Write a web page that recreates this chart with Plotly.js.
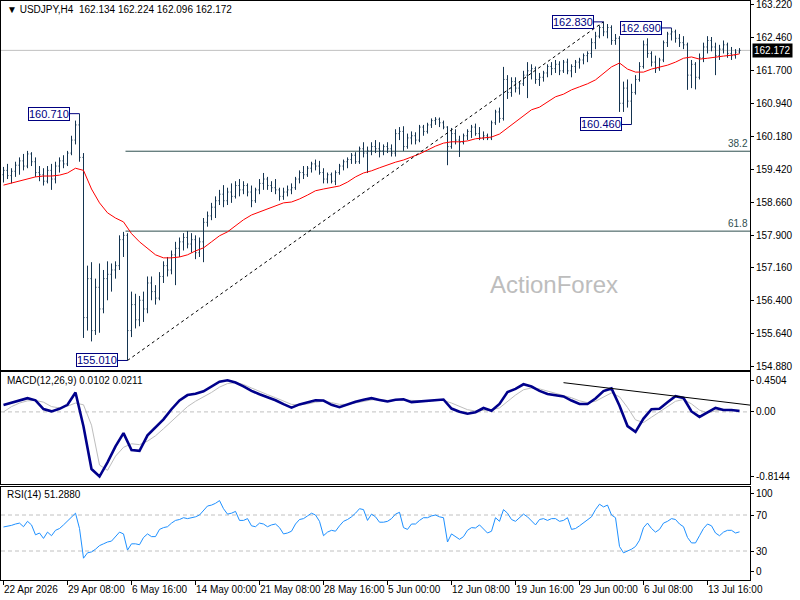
<!DOCTYPE html>
<html><head><meta charset="utf-8">
<script src="https://cdn.plot.ly/plotly-3.0.1.min.js"></script>
<style>html,body{margin:0;padding:0;background:#fff;}#chart{width:800px;height:600px;}</style>
</head><body><div id="chart"></div>
<script>
// ---------- DATA ----------
const symbol = "USDJPY,H4";
const tickLabels = ["22 Apr 2026","29 Apr 08:00","6 May 16:00","14 May 00:00","21 May 08:00","28 May 16:00","5 Jun 00:00","12 Jun 08:00","19 Jun 16:00","29 Jun 00:00","6 Jul 08:00","13 Jul 16:00"];
const priceTickLabels = ["154.880","155.640","156.400","157.160","157.900","158.660","159.420","160.180","160.940","161.700","162.460","163.220"];

const openP = [
159.30,159.40,159.28,159.38,159.52,159.62,159.50,159.78,159.60,159.35,
159.30,159.15,159.40,159.20,159.50,159.62,159.55,159.80,160.10,160.45,
159.70,156.00,156.90,155.70,156.70,156.20,156.90,157.00,157.10,157.20,
157.80,157.90,155.70,156.30,155.95,156.40,156.20,156.80,156.60,156.45,
156.95,157.20,157.10,157.45,157.60,157.75,157.85,157.70,157.80,157.50,
157.75,158.20,158.35,158.55,158.70,158.85,158.70,158.90,158.80,159.05,
158.95,159.05,158.90,158.70,158.95,159.10,159.20,159.05,159.00,158.95,
158.80,158.90,158.95,159.00,159.20,159.35,159.30,159.45,159.55,159.50,
159.35,159.20,159.30,159.15,159.35,159.50,159.60,159.65,159.75,159.60,
159.90,159.80,159.85,159.95,159.90,159.85,159.95,159.90,159.80,160.25,
160.30,159.95,160.15,160.20,160.10,160.40,160.30,160.45,160.55,160.58,
160.50,160.40,159.95,160.25,160.10,160.05,160.20,160.30,160.40,160.25,
160.15,160.20,160.15,160.50,160.75,160.60,161.50,161.20,161.45,161.30,
161.40,161.60,161.70,161.75,161.50,161.55,161.65,161.80,161.75,161.85,
161.70,161.90,161.70,161.80,161.90,161.95,162.05,162.10,162.35,162.50,
162.70,162.60,162.70,162.40,162.45,160.95,161.30,161.00,161.20,161.50,
161.80,162.30,162.10,161.90,161.75,161.95,162.35,162.55,162.60,162.45,
162.35,162.30,161.60,161.85,161.55,162.00,162.25,162.40,162.25,162.05,
162.20,162.30,162.10,162.05,162.134];
const highP = [
159.48,159.55,159.45,159.60,159.70,159.78,159.85,159.82,159.70,159.50,
159.45,159.50,159.55,159.60,159.70,159.75,159.85,160.20,160.55,160.71,
159.80,157.20,157.28,156.90,157.25,157.10,157.30,157.25,157.30,157.90,
157.98,157.95,156.60,156.55,156.50,156.60,156.95,156.95,156.75,157.05,
157.30,157.40,157.55,157.75,157.85,157.95,158.00,157.95,157.90,157.85,
158.30,158.45,158.65,158.80,158.95,159.06,159.00,159.10,159.15,159.20,
159.15,159.10,159.05,159.00,159.20,159.34,159.25,159.15,159.20,159.00,
159.00,159.05,159.10,159.25,159.40,159.50,159.50,159.60,159.65,159.62,
159.45,159.35,159.35,159.40,159.55,159.65,159.70,159.80,159.82,159.95,
160.05,159.95,160.05,160.10,160.05,160.00,160.05,160.00,160.35,160.40,
160.42,160.25,160.30,160.28,160.45,160.45,160.50,160.60,160.63,160.62,
160.55,160.42,160.38,160.35,160.20,160.25,160.35,160.45,160.48,160.40,
160.30,160.25,160.55,160.80,160.85,161.79,161.60,161.55,161.55,161.45,
161.70,161.90,161.85,161.80,161.65,161.70,161.85,161.90,161.95,161.92,
161.95,161.98,161.85,161.95,162.00,162.10,162.15,162.45,162.60,162.75,
162.83,162.78,162.75,162.55,162.50,161.45,161.50,161.40,161.60,161.90,
162.40,162.45,162.15,162.05,162.00,162.40,162.60,162.69,162.65,162.55,
162.50,162.35,161.95,161.90,162.10,162.35,162.50,162.48,162.35,162.30,
162.40,162.35,162.25,162.20,162.224];
const lowP = [
159.12,159.20,159.10,159.25,159.30,159.40,159.45,159.50,159.25,159.15,
159.05,159.10,158.95,159.10,159.35,159.45,159.50,159.75,160.00,159.60,
155.53,155.70,155.45,155.60,155.65,156.10,156.40,156.60,156.90,157.10,
157.40,155.01,155.55,155.75,155.80,155.90,156.10,156.40,156.30,156.40,
156.80,156.95,157.00,156.75,157.40,157.55,157.60,157.50,157.35,157.40,
157.28,158.10,158.25,158.30,158.60,158.55,158.60,158.65,158.75,158.80,
158.85,158.80,158.55,158.65,158.85,158.95,158.95,158.90,158.85,158.70,
158.72,158.80,158.85,158.95,159.10,159.20,159.25,159.35,159.40,159.30,
159.10,159.10,159.10,159.06,159.30,159.40,159.45,159.55,159.55,159.55,
159.70,159.34,159.75,159.80,159.70,159.75,159.80,159.72,159.72,160.10,
159.85,159.90,160.00,160.00,160.05,160.20,160.25,160.38,160.45,160.40,
160.35,159.52,159.90,160.00,159.71,160.00,160.10,160.15,160.20,160.10,
160.10,160.10,160.10,160.45,160.50,160.55,161.05,161.10,161.20,161.15,
161.35,161.07,161.50,161.40,161.35,161.45,161.55,161.60,161.65,161.60,
161.65,161.62,161.55,161.65,161.75,161.85,161.90,162.00,162.20,162.45,
162.50,162.45,162.30,162.30,160.75,160.75,160.85,160.46,161.15,161.45,
161.75,162.00,161.80,161.65,161.70,161.90,162.25,162.40,162.35,162.25,
162.20,161.26,161.30,161.27,161.50,161.90,162.10,162.15,161.60,161.95,
162.10,162.00,161.95,161.98,162.096];
const closeP = [
159.40,159.28,159.38,159.52,159.62,159.50,159.78,159.60,159.35,159.30,
159.15,159.40,159.20,159.50,159.62,159.55,159.80,160.10,160.45,159.70,
156.00,156.90,155.70,156.70,156.20,156.90,157.00,157.10,157.20,157.80,
157.90,155.70,156.30,155.95,156.40,156.20,156.80,156.60,156.45,156.95,
157.20,157.10,157.45,157.60,157.75,157.85,157.70,157.80,157.50,157.75,
158.20,158.35,158.55,158.70,158.85,158.70,158.90,158.80,159.05,158.95,
159.05,158.90,158.70,158.95,159.10,159.20,159.05,159.00,158.95,158.80,
158.90,158.95,159.00,159.20,159.35,159.30,159.45,159.55,159.50,159.35,
159.20,159.30,159.15,159.35,159.50,159.60,159.65,159.75,159.60,159.90,
159.80,159.85,159.95,159.90,159.85,159.95,159.90,159.80,160.25,160.30,
159.95,160.15,160.20,160.10,160.40,160.30,160.45,160.55,160.58,160.50,
160.40,159.95,160.25,160.10,160.05,160.20,160.30,160.40,160.25,160.15,
160.20,160.15,160.50,160.75,160.60,161.50,161.20,161.45,161.30,161.40,
161.60,161.70,161.75,161.50,161.55,161.65,161.80,161.75,161.85,161.70,
161.90,161.70,161.80,161.90,161.95,162.05,162.10,162.35,162.50,162.70,
162.60,162.70,162.40,162.45,160.95,161.30,161.00,161.20,161.50,161.80,
162.30,162.10,161.90,161.75,161.95,162.35,162.55,162.60,162.45,162.35,
162.30,161.60,161.85,161.55,162.00,162.25,162.40,162.25,162.05,162.20,
162.30,162.10,162.05,162.13,162.172];

// moving average, sampled every 2 bars
const maVals = [
159.06,159.11,159.15,159.20,159.25,159.27,159.27,159.29,159.34,159.45,
159.40,158.97,158.65,158.42,158.30,158.21,157.94,157.75,157.61,157.45,
157.38,157.38,157.40,157.45,157.54,157.61,157.75,157.89,157.98,158.12,
158.26,158.37,158.44,158.51,158.58,158.65,158.67,158.74,158.83,158.93,
158.97,159.00,159.04,159.13,159.25,159.34,159.39,159.46,159.53,159.59,
159.64,159.71,159.78,159.87,159.96,160.03,160.06,160.06,160.08,160.13,
160.15,160.17,160.24,160.38,160.52,160.68,160.80,160.86,160.98,161.10,
161.16,161.26,161.33,161.40,161.49,161.63,161.79,161.88,161.74,161.67,
161.67,161.74,161.79,161.83,161.90,161.99,162.02,161.97,161.99,162.02,
162.04,162.06,162.09];

// MACD(12,26,9), sampled every 2 bars
const macdMain = [
0.077,0.105,0.13,0.155,0.131,0.032,0.006,0.035,0.08,0.22,
-0.165,-0.645,-0.73,-0.57,-0.39,-0.24,-0.43,-0.44,-0.265,-0.17,
-0.085,0.03,0.13,0.19,0.205,0.233,0.287,0.342,0.357,0.332,
0.288,0.237,0.20,0.168,0.132,0.087,0.048,0.085,0.109,0.132,
0.128,0.08,0.053,0.087,0.114,0.137,0.155,0.135,0.117,0.138,
0.143,0.11,0.117,0.123,0.135,0.14,0.038,0.002,-0.02,-0.004,
0.044,0.014,0.09,0.224,0.26,0.312,0.286,0.237,0.202,0.188,
0.175,0.128,0.089,0.089,0.152,0.235,0.265,0.07,-0.16,-0.225,
-0.075,0.03,0.035,0.11,0.178,0.157,0.005,-0.056,-0.01,0.045,
0.021,0.021,0.0102];
const macdSignal = [
0.0,0.06,0.10,0.125,0.13,0.11,0.06,0.045,0.065,0.10,
0.08,-0.15,-0.60,-0.66,-0.50,-0.40,-0.36,-0.37,-0.33,-0.27,
-0.19,-0.11,-0.02,0.06,0.12,0.17,0.22,0.28,0.32,0.33,
0.31,0.27,0.23,0.195,0.16,0.12,0.085,0.08,0.09,0.11,
0.12,0.105,0.085,0.085,0.10,0.12,0.135,0.14,0.13,0.13,
0.135,0.13,0.125,0.123,0.128,0.13,0.10,0.06,0.025,0.01,
0.015,0.025,0.045,0.12,0.19,0.25,0.27,0.26,0.235,0.21,
0.19,0.16,0.125,0.105,0.12,0.17,0.215,0.17,0.05,-0.09,
-0.12,-0.06,0.0,0.06,0.12,0.14,0.09,0.02,-0.01,0.01,
0.025,0.022,0.0211];

// RSI(14), every bar
const rsiVals = [
56.7,57.5,58.5,60,61,57,63,59,48,50,
44,51,47,53,55,59,63,68,72,55,
22,28,29,32,36,38,40,41,46,51,
49,31,38,38,37,45,49,46,46,54,
56,57,61,64,65,67,66,67,68,70,
75,80,81,83,86,77,71,72,74,64,
64,66,58,57,61,60,57,59,60,56,
49,50,52,60,65,66,69,72,70,63,
47,51,53,52,58,63,65,68,72,77,
76,64,71,68,62,62,63,66,71,73,
56,54,60,60,64,67,67,69,70,68,
67,40,49,46,43,46,53,56,55.6,59,
54,50,52,67,63,76,72,65,63,67,
71,68,63,59,65,66,64,66,66,63,
64,67,54,55,58,61,65,68,76,82,
79,81,70,67,35,28,30,32,35,42,
56,61,55,51,54,61,63,66,65,60,
57,45,39,39,47,55,60,58,50,47,
51,53,53,50,51.288];

// labelled swing points (bar indices) and fibonacci ratios
const swingIdx = [19, 31, 150, 157, 167];
const swingSide = ["high", "low", "high", "low", "high"];
const fibRatios = [0.382, 0.618];
const macdPeakIdx = [76, 84];   // sample indices of MACD peaks joined by the trendline
const macdLineStart = 140;      // bar index where the MACD trendline begins

// ---------- BUILD ----------
const FONT = "Liberation Sans, Arial, sans-serif";
const N = closeP.length;
const barIdx = closeP.map((_, i) => i);
const sampIdx = maVals.map((_, k) => 2 * k);
const tickIdx = tickLabels.map((_, k) => 16 * k);
const xRange = [-0.625, 186.625];
const barColor = "#143450";
const navy = "#000080";

const traces = [
  { type: "ohlc", x: barIdx, open: openP, high: highP, low: lowP, close: closeP,
    xaxis: "x", yaxis: "y", tickwidth: 0.25, hoverinfo: "skip",
    increasing: { line: { color: barColor, width: 1 } },
    decreasing: { line: { color: barColor, width: 1 } } },
  { type: "scatter", mode: "lines", x: sampIdx, y: maVals, xaxis: "x", yaxis: "y",
    line: { color: "#FF0000", width: 1 }, hoverinfo: "skip" },
  { type: "scatter", mode: "lines", x: sampIdx, y: macdSignal, xaxis: "x2", yaxis: "y2",
    line: { color: "#BDBDBD", width: 1 }, hoverinfo: "skip" },
  { type: "scatter", mode: "lines", x: sampIdx, y: macdMain, xaxis: "x2", yaxis: "y2",
    line: { color: "#00008B", width: 2.6 }, hoverinfo: "skip" },
  { type: "scatter", mode: "lines", x: barIdx, y: rsiVals, xaxis: "x3", yaxis: "y3",
    line: { color: "#1E90FF", width: 1 }, hoverinfo: "skip" }
];

const baseX = { showgrid: false, zeroline: false, showline: true, mirror: true,
  linecolor: "#000", linewidth: 1, showticklabels: false, ticks: "", fixedrange: true };
const baseY = { showgrid: false, zeroline: false, showline: true, mirror: true,
  linecolor: "#000", linewidth: 1, side: "right", ticks: "outside", ticklen: 3,
  tickcolor: "#000", ticklabeloverflow: "allow",
  tickfont: { family: FONT, size: 10, color: "#000" }, fixedrange: true };

const lowIdx = swingIdx[1], highIdx = swingIdx[2];
const swingLow = lowP[lowIdx], swingHigh = highP[highIdx];
const lastC = closeP[N - 1];

const shapes = [];
const annotations = [];

// current price line
shapes.push({ type: "line", xref: "x", yref: "y", x0: xRange[0], x1: xRange[1], y0: lastC, y1: lastC,
  line: { color: "#C0C0C0", width: 1 }, layer: "below" });
// fibonacci levels
fibRatios.forEach(r => {
  const lvl = swingHigh - r * (swingHigh - swingLow);
  shapes.push({ type: "line", xref: "x", yref: "y", x0: lowIdx - 0.5, x1: xRange[1], y0: lvl, y1: lvl,
    line: { color: "#2F4F4F", width: 1 }, layer: "below" });
  annotations.push({ xref: "x", yref: "y", x: xRange[1], y: lvl, xanchor: "right", yanchor: "bottom",
    text: (r * 100).toFixed(1), showarrow: false, font: { family: FONT, size: 10, color: "#2F4F4F" } });
});
// dotted swing trendline
shapes.push({ type: "line", xref: "x", yref: "y", x0: lowIdx, y0: swingLow, x1: highIdx, y1: swingHigh,
  line: { color: "#000", width: 1, dash: "3px,3px" } });
// swing labels
swingIdx.forEach((idx, j) => {
  const v = swingSide[j] === "high" ? highP[idx] : lowP[idx];
  shapes.push({ type: "line", xref: "x", yref: "y", x0: idx - 2.5, x1: idx, y0: v, y1: v,
    line: { color: navy, width: 1 } });
  annotations.push({ xref: "x", yref: "y", x: idx - 2.5, y: v, xanchor: "right", yanchor: "middle",
    text: v.toFixed(3), showarrow: false, bgcolor: "#fff", bordercolor: navy, borderwidth: 1, borderpad: 0,
    font: { family: FONT, size: 11, color: navy } });
});
// MACD zero line and RSI 70/30
shapes.push({ type: "line", xref: "x2", yref: "y2", x0: xRange[0], x1: xRange[1], y0: 0, y1: 0,
  line: { color: "#C0C0C0", width: 1, dash: "4px,3px" }, layer: "below" });
[70, 30].forEach(l => shapes.push({ type: "line", xref: "x3", yref: "y3", x0: xRange[0], x1: xRange[1], y0: l, y1: l,
  line: { color: "#C0C0C0", width: 1, dash: "4px,3px" }, layer: "below" }));
// MACD trendline through two peaks
{
  const xa = sampIdx[macdPeakIdx[0]], ya = macdMain[macdPeakIdx[0]];
  const xb = sampIdx[macdPeakIdx[1]], yb = macdMain[macdPeakIdx[1]];
  const slope = (yb - ya) / (xb - xa);
  shapes.push({ type: "line", xref: "x2", yref: "y2",
    x0: macdLineStart, y0: ya + slope * (macdLineStart - xa),
    x1: xRange[1], y1: ya + slope * (xRange[1] - xa),
    line: { color: "#000", width: 1 } });
}

// text labels
const nb = "\u00a0";
annotations.push({ xref: "paper", yref: "paper", x: 0.005, y: 0.9845, xanchor: "left", yanchor: "middle", showarrow: false,
  text: "\u25BC" + nb + symbol + nb + nb + [openP[N-1], highP[N-1], lowP[N-1], closeP[N-1]].map(v => v.toFixed(3)).join(nb),
  font: { family: FONT, size: 10, color: "#000" } });
annotations.push({ xref: "paper", yref: "paper", x: 0.005, y: 0.3454, xanchor: "left", yanchor: "middle", showarrow: false,
  text: "MACD(12,26,9)" + nb + macdMain[macdMain.length-1].toFixed(4) + nb + macdSignal[macdSignal.length-1].toFixed(4),
  font: { family: FONT, size: 10, color: "#000" } });
annotations.push({ xref: "paper", yref: "paper", x: 0.005, y: 0.1485, xanchor: "left", yanchor: "middle", showarrow: false,
  text: "RSI(14)" + nb + rsiVals[N-1].toFixed(4), font: { family: FONT, size: 10, color: "#000" } });
annotations.push({ xref: "paper", yref: "paper", x: 0.738, y: 0.5095, xanchor: "center", yanchor: "middle", showarrow: false,
  text: "ActionForex", font: { family: FONT, size: 24, color: "#BDBDBD" } });
// current price tag on axis
annotations.push({ xref: "paper", yref: "y", x: 1, y: lastC, xanchor: "left", yanchor: "middle", showarrow: false,
  xshift: 2, text: lastC.toFixed(3), bgcolor: "#000", borderpad: 1,
  font: { family: FONT, size: 10, color: "#fff" } });
// date labels
tickLabels.forEach((t, k) => annotations.push({ xref: "x3", yref: "paper", x: tickIdx[k], y: -0.004,
  xanchor: "left", yanchor: "top", showarrow: false, text: t, xshift: -2,
  font: { family: FONT, size: 10, color: "#000" } }));

const layout = {
  width: 800, height: 600,
  margin: { l: 1, r: 50, t: 1, b: 20 },
  paper_bgcolor: "#fff", plot_bgcolor: "#fff",
  showlegend: false, hovermode: false,
  font: { family: FONT, size: 10, color: "#000" },
  xaxis: Object.assign({}, baseX, { anchor: "y", range: xRange, rangeslider: { visible: false } }),
  xaxis2: Object.assign({}, baseX, { anchor: "y2", matches: "x" }),
  xaxis3: Object.assign({}, baseX, { anchor: "y3", matches: "x",
    tickmode: "array", tickvals: tickIdx, ticktext: tickLabels.map(() => ""), ticks: "outside", ticklen: 4, tickcolor: "#000" }),
  yaxis: Object.assign({}, baseY, { domain: [0.3627, 1], range: [154.79, 163.312],
    tickmode: "array", tickvals: priceTickLabels.map(Number), ticktext: priceTickLabels }),
  yaxis2: Object.assign({}, baseY, { domain: [0.1658, 0.3592], range: [-0.8144, 0.4504],
    tickmode: "array", tickvals: [0.36, 0, -0.724], ticktext: ["0.4504", "0.00", "-0.8144"] }),
  yaxis3: Object.assign({}, baseY, { domain: [0, 0.1606], range: [-2.2, 101.1],
    tickmode: "array", tickvals: [94.4, 70, 30, 6.7], ticktext: ["100", "70", "30", "0"] }),
  shapes: shapes,
  annotations: annotations
};

Plotly.newPlot("chart", traces, layout, { staticPlot: true, displayModeBar: false });
</script>
</body></html>
